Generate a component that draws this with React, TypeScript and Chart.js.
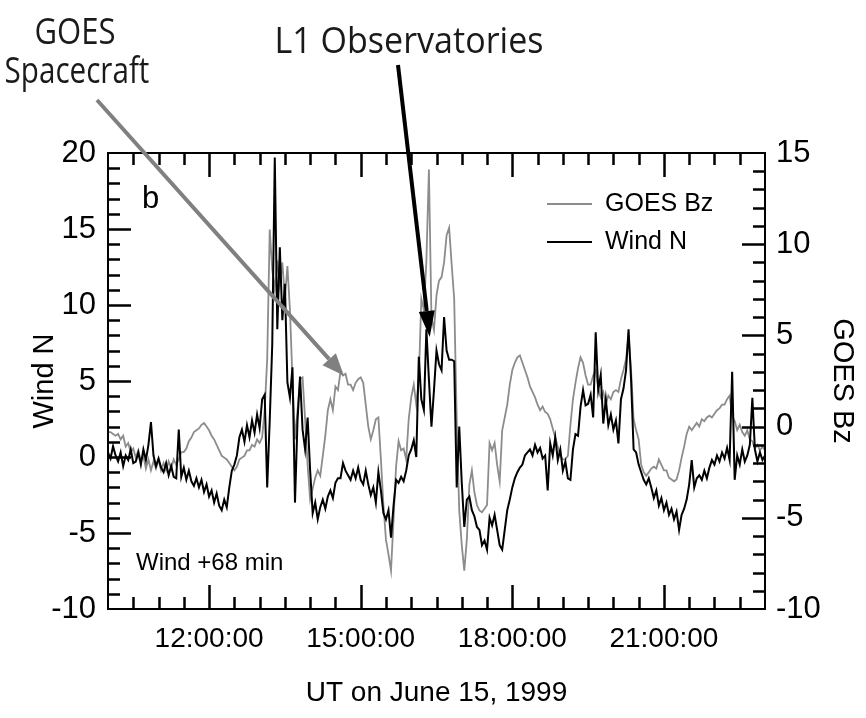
import React, { useEffect, useRef } from "react";
import { Chart, registerables } from "chart.js";

Chart.register(...registerables);

// Sampling: minutes after 00:00 UT, every 3 minutes from 10:00 to 23:00
const START_MIN = 600;
const STEP_MIN = 3;

// Wind N (nT), left axis
const WIND_N = [
  0.3, -0.1, 0.7, 0.1, -0.3, 0.3, -0.6, 0.1, -0.2, 0.5,
  -0.4, -0.3, 0.3, -0.5, 0.5, -0.2, 0.8, 2.3, 0.1, -0.6,
  -0.1, -0.7, -1.0, -0.4, -1.2, -0.6, -1.3, -1.4, 1.8, -1.3,
  -0.7, -1.5, -0.9, -1.6, -1.9, -1.4, -2.0, -1.5, -2.3, -1.8,
  -2.6, -2.2, -3.0, -2.4, -3.2, -3.5, -2.8, -3.3, -2.0, -0.9,
  -0.5, 0.1, 1.3, 1.8, 1.0, 2.1, 1.3, 2.4, 1.6, 2.8,
  1.9, 3.8, 4.1, -2.0, 2.4, 7.4, 19.7, 8.4, 13.8, 9.0,
  11.4, 4.9, 3.9, 5.9, -3.0, 2.4, 5.3, 1.8, 0.5, 2.6,
  -0.9, -3.7, -3.0, -4.1, -3.3, -2.8, -3.4, -2.6, -2.2, -2.7,
  -1.7, -1.4, -1.4, -0.4, -0.9, -1.2, -1.5, -0.9, -1.4, -0.7,
  -1.5, -1.8, -0.9, -1.8, -2.5, -2.0, -3.0, -1.0, -2.2, -3.7,
  -4.1, -3.5, -5.3, -3.2, -1.5, -1.7, -1.3, -1.6, -0.9, 0.1,
  0.5, 1.1, 0.0, 6.6, 3.8, 3.1, 8.4, 5.1, 2.0, 4.4,
  7.0, 6.1, 5.7, 9.2, 7.0, 6.4, 6.4, 6.3, -2.0, 2.0,
  -1.7, -4.6, -2.8, -2.6, -3.5, -3.9, -4.6, -4.8, -5.8, -5.5,
  -6.1, -4.0, -4.5, -3.8, -4.8, -5.8, -6.1, -4.8, -3.5, -2.8,
  -2.0, -1.4, -1.0, -0.7, -0.5, 0.1, 0.3, 0.5, 0.1, 0.8,
  0.3, 0.6, -0.1, 0.1, -2.2, 0.9, 0.1, 1.3, -0.2, 0.5,
  -0.9, -0.3, -1.4, -1.5, 0.5, 1.5, 1.4, 3.3, 4.4, 3.4,
  3.5, 4.1, 2.6, 8.2, 4.4, 5.4, 2.2, 3.8, 2.1, 2.8,
  1.8, 2.4, 0.9, 3.8, 4.5, 5.7, 8.4, 5.1, 0.5, 0.3,
  -0.5, -1.0, -1.5, -1.8, -1.4, -2.0, -2.7, -2.2, -3.2, -2.7,
  -3.5, -3.0, -3.8, -3.4, -4.1, -3.6, -4.8, -3.8, -3.4, -2.8,
  -1.8, -0.2, -2.0, -1.4, -1.2, -1.5, -0.9, -1.4, -0.7, -0.2,
  -0.5, 0.1, -0.3, 0.3, -0.1, 0.6, -0.2, 5.6, -1.5, 0.1,
  -0.5, 0.5, -0.3, 0.1, 0.8, 3.9, 0.5, -0.3, 0.3, -0.2,
  0.1,
];

// GOES Bz (nT), right axis
const GOES_BZ = [
  -0.3, -0.3, -0.4, -0.5, -0.4, -0.7, -0.5, -1.1, -0.9, -1.4,
  -1.2, -1.7, -1.3, -1.9, -1.6, -2.3, -1.8, -2.4, -1.9, -2.3,
  -1.8, -2.4, -2.0, -2.4, -1.9, -2.3, -1.8, -2.1, -1.8, -1.4,
  -1.4, -1.2, -0.8, -0.6, -0.3, -0.2, -0.1, 0.1, 0.2, 0.0,
  -0.2, -0.5, -0.7, -1.0, -1.3, -1.6, -1.7, -1.8, -2.0, -2.2,
  -2.4, -2.2, -1.8, -1.7, -1.6, -1.3, -1.3, -1.0, -1.1, -0.7,
  -0.9, -0.6, 0.9, 3.7, 10.8, 8.6, 7.5, 9.1, 7.8, 9.0,
  7.0, 8.8, 6.4, 2.6, -0.7, 0.9, 2.6, 2.7, 0.4, -2.1,
  -4.0, -3.4, -2.8, -2.4, -2.7, -1.6, -0.5, 0.9, 1.5, 0.9,
  2.2, 2.0, 3.0, 2.8, 2.9, 2.3, 2.3, 2.0, 2.4, 2.6,
  2.7, 2.4, 1.2, 0.0, -0.7, -0.2, 0.4, 0.5, -1.8, -4.3,
  -6.2, -7.0, -7.9, -5.1, -2.2, -0.8, -1.3, -1.2, -1.8, 0.4,
  1.6, 2.3, 1.2, 2.6, 7.0, 6.4, 9.1, 14.1, 6.0, 5.3,
  7.2, 8.0, 8.2, 9.0, 10.5, 10.9, 8.9, 7.0, 0.4, -4.6,
  -6.5, -7.9, -6.2, -3.2, -2.4, -3.6, -4.3, -4.6, -4.7, -4.5,
  -4.3, -0.9, -1.3, -0.9, -2.1, -3.0, -0.2, 0.5, 1.2, 2.3,
  3.1, 3.5, 3.8, 3.9, 3.5, 3.1, 2.7, 2.2, 1.9, 1.6,
  1.2, 0.9, 1.1, 0.8, 0.7, 0.4, -0.1, -0.6, -1.1, -1.6,
  -1.8, -1.8, -1.6, 0.1, 1.5, 2.4, 3.2, 3.8, 3.5, 2.8,
  2.3, 2.3, 2.8, 3.1, 2.1, 1.6, 1.9, 1.2, 1.7, 1.5,
  1.9, 2.0, 1.9, 2.6, 3.1, 3.7, 5.0, 3.1, 0.4, -0.2,
  -0.7, -2.1, -2.5, -2.7, -2.5, -2.3, -2.2, -2.3, -1.8, -2.1,
  -2.4, -2.4, -2.8, -2.9, -3.0, -2.9, -2.4, -1.7, -1.1, -0.4,
  0.0, -0.2, 0.0, 0.2, 0.0, 0.4, 0.3, 0.5, 0.6, 0.5,
  0.7, 0.9, 1.0, 1.2, 1.2, 1.5, 1.7, 0.6, 0.3, -0.2,
  0.1, -0.3, -0.5, -0.2, -0.7, -0.8, -1.2, -1.0, -1.3, -1.1,
  -1.3,
];

const TIME_MIN = WIND_N.map((_, i) => START_MIN + i * STEP_MIN);

const X_MIN = 600;
const X_MAX = 1380;
const X_MAJOR = [720, 900, 1080, 1260];
const X_LABELS = ["12:00:00", "15:00:00", "18:00:00", "21:00:00"];
const X_MINOR_STEP = 30;

const YL_MIN = -10;
const YL_MAX = 20;
const YL_TICKS = [-10, -5, 0, 5, 10, 15, 20];
const YR_MIN = -10;
const YR_MAX = 15;
const YR_TICKS = [-10, -5, 0, 5, 10, 15];

// arrow tips anchored in data space
const GRAY_TIP = { t: 880, bz: 2.8 };
const BLACK_TIP = { t: 982, n: 7.9 };

const FONT = "'Liberation Sans', Arial, Helvetica, sans-serif";
const GRAY_LINE = "#8c8c8c";

function drawArrow(ctx: CanvasRenderingContext2D, x0: number, y0: number, x1: number, y1: number, color: string, width: number, headLen: number, headHalf: number) {
  const ang = Math.atan2(y1 - y0, x1 - x0);
  const bx = x1 - headLen * Math.cos(ang);
  const by = y1 - headLen * Math.sin(ang);
  ctx.strokeStyle = color;
  ctx.lineWidth = width;
  ctx.lineCap = "butt";
  ctx.beginPath();
  ctx.moveTo(x0, y0);
  ctx.lineTo(bx, by);
  ctx.stroke();
  ctx.fillStyle = color;
  ctx.beginPath();
  ctx.moveTo(x1, y1);
  ctx.lineTo(bx + headHalf * Math.sin(ang), by - headHalf * Math.cos(ang));
  ctx.lineTo(bx - headHalf * Math.sin(ang), by + headHalf * Math.cos(ang));
  ctx.closePath();
  ctx.fill();
}

const framePlugin = {
  id: "frameTicks",
  afterDraw(chart: any) {
    const { ctx, chartArea: a, scales } = chart;
    const xs = scales.x;
    const yl = scales.yL;
    const yr = scales.yR;
    ctx.save();
    ctx.strokeStyle = "#000";
    ctx.lineWidth = 2;
    ctx.strokeRect(a.left, a.top, a.right - a.left, a.bottom - a.top);

    ctx.lineWidth = 2.5;
    ctx.beginPath();
    for (let m = X_MIN + X_MINOR_STEP; m < X_MAX; m += X_MINOR_STEP) {
      const px = Math.round(xs.getPixelForValue(m)) + 0.5;
      const len = X_MAJOR.includes(m) ? 24 : 12;
      ctx.moveTo(px, a.bottom);
      ctx.lineTo(px, a.bottom - len);
      ctx.moveTo(px, a.top);
      ctx.lineTo(px, a.top + len);
    }
    for (let v = YL_MIN + 1; v < YL_MAX; v++) {
      const py = Math.round(yl.getPixelForValue(v)) + 0.5;
      const len = v % 5 === 0 ? 23 : 12;
      ctx.moveTo(a.left, py);
      ctx.lineTo(a.left + len, py);
    }
    for (let v = YR_MIN + 1; v < YR_MAX; v++) {
      const py = Math.round(yr.getPixelForValue(v)) + 0.5;
      const len = v % 5 === 0 ? 23 : 12;
      ctx.moveTo(a.right, py);
      ctx.lineTo(a.right - len, py);
    }
    ctx.stroke();

    // legend
    const lx0 = a.right - 218;
    const lx1 = a.right - 173;
    const ly1 = a.top + 51;
    const ly2 = a.top + 89;
    ctx.lineWidth = 2;
    ctx.strokeStyle = GRAY_LINE;
    ctx.beginPath();
    ctx.moveTo(lx0, ly1);
    ctx.lineTo(lx1, ly1);
    ctx.stroke();
    ctx.strokeStyle = "#000";
    ctx.beginPath();
    ctx.moveTo(lx0, ly2);
    ctx.lineTo(lx1, ly2);
    ctx.stroke();
    ctx.fillStyle = "#000";
    ctx.font = `25px ${FONT}`;
    ctx.textAlign = "left";
    ctx.textBaseline = "middle";
    ctx.fillText("GOES Bz", a.right - 160, ly1);
    ctx.fillText("Wind N", a.right - 160, ly2);

    // panel letter & lag note
    ctx.font = `31px ${FONT}`;
    ctx.fillText("b", a.left + 34, a.top + 46);
    ctx.font = `24px ${FONT}`;
    ctx.fillText("Wind +68 min", a.left + 28, a.bottom - 46);

    // arrows
    const gx = xs.getPixelForValue(GRAY_TIP.t);
    const gy = yr.getPixelForValue(GRAY_TIP.bz);
    drawArrow(ctx, 97, 100, gx, gy, "#808080", 4, 22, 9);
    const bxp = xs.getPixelForValue(BLACK_TIP.t);
    const byp = yl.getPixelForValue(BLACK_TIP.n);
    drawArrow(ctx, 398, 65, bxp, byp, "#000", 4, 26, 8);
    ctx.restore();
  },
};

export default function App() {
  const canvasRef = useRef<HTMLCanvasElement | null>(null);

  useEffect(() => {
    const canvas = canvasRef.current;
    if (!canvas) return;
    const windData = TIME_MIN.map((t, i) => ({ x: t, y: WIND_N[i] }));
    const goesData = TIME_MIN.map((t, i) => ({ x: t, y: GOES_BZ[i] }));
    const chart = new Chart(canvas, {
      type: "line",
      data: {
        datasets: [
          {
            label: "Wind N",
            data: windData,
            yAxisID: "yL",
            borderColor: "#000",
            borderWidth: 2,
            pointRadius: 0,
            tension: 0,
            fill: false,
          },
          {
            label: "GOES Bz",
            data: goesData,
            yAxisID: "yR",
            borderColor: GRAY_LINE,
            borderWidth: 1.8,
            pointRadius: 0,
            tension: 0,
            fill: false,
          },
        ],
      },
      options: {
        responsive: false,
        animation: false,
        events: [],
        layout: { padding: { top: 153, left: 0, right: 0, bottom: 0 } },
        plugins: { legend: { display: false }, tooltip: { enabled: false } },
        scales: {
          x: {
            type: "linear",
            min: X_MIN,
            max: X_MAX,
            afterBuildTicks: (s: any) => {
              s.ticks = X_MAJOR.map((v) => ({ value: v }));
            },
            afterFit: (s: any) => {
              s.height = 109;
            },
            ticks: {
              callback: (v: any) => {
                const k = X_MAJOR.indexOf(Number(v));
                return k >= 0 ? X_LABELS[k] : "";
              },
              font: { family: FONT, size: 28 },
              color: "#000",
              padding: 13,
              maxRotation: 0,
              autoSkip: false,
            },
            grid: { display: false, drawTicks: false, tickLength: 0 },
            border: { display: false },
            title: {
              display: true,
              text: "UT on June 15, 1999",
              font: { family: FONT, size: 28 },
              color: "#000",
              padding: { top: 0, bottom: 8 },
            },
          },
          yL: {
            type: "linear",
            position: "left",
            min: YL_MIN,
            max: YL_MAX,
            afterBuildTicks: (s: any) => {
              s.ticks = YL_TICKS.map((v) => ({ value: v }));
            },
            afterFit: (s: any) => {
              s.width = 108;
            },
            ticks: {
              font: { family: FONT, size: 31 },
              color: "#000",
              padding: 12,
            },
            grid: { display: false, drawTicks: false, tickLength: 0 },
            border: { display: false },
            title: {
              display: true,
              text: "Wind N",
              font: { family: FONT, size: 29 },
              color: "#000",
              padding: { top: 28, bottom: 0 },
            },
          },
          yR: {
            type: "linear",
            position: "right",
            min: YR_MIN,
            max: YR_MAX,
            afterBuildTicks: (s: any) => {
              s.ticks = YR_TICKS.map((v) => ({ value: v }));
            },
            afterFit: (s: any) => {
              s.width = 101;
            },
            ticks: {
              font: { family: FONT, size: 31 },
              color: "#000",
              padding: 11,
            },
            grid: { display: false, drawTicks: false, tickLength: 0 },
            border: { display: false },
            title: {
              display: true,
              text: "GOES Bz",
              font: { family: FONT, size: 29 },
              color: "#000",
              padding: { top: 7, bottom: 0 },
            },
          },
        },
      },
      plugins: [framePlugin],
    } as any);
    return () => chart.destroy();
  }, []);

  const annot: React.CSSProperties = {
    position: "absolute",
    width: 320,
    textAlign: "center",
    fontFamily: "'Open Sans', 'Noto Sans', sans-serif",
    fontSize: 37,
    lineHeight: 1,
    color: "#1a1a1a",
    transformOrigin: "center",
    whiteSpace: "nowrap",
    pointerEvents: "none",
  };

  return (
    <div style={{ position: "absolute", left: 0, top: 0, width: 866, height: 718, background: "#fff", overflow: "hidden" }}>
      <canvas ref={canvasRef} width={866} height={718} style={{ display: "block", width: 866, height: 718 }} />
      <div style={{ ...annot, left: 75 - 160, top: 11, transform: "scaleX(0.84)" }}>GOES</div>
      <div style={{ ...annot, left: 77 - 160, top: 50, transform: "scaleX(0.8)" }}>Spacecraft</div>
      <div style={{ ...annot, left: 409 - 160, top: 20, transform: "scaleX(0.92)" }}>L1 Observatories</div>
    </div>
  );
}
